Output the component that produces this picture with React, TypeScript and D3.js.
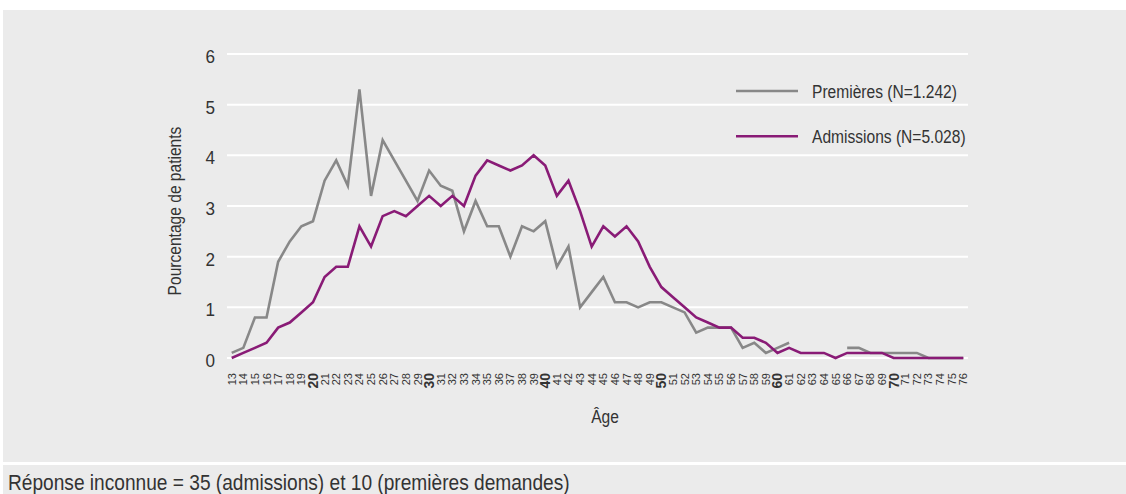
import React from 'react';
import * as d3 from 'd3';

const ages = [13, 14, 15, 16, 17, 18, 19, 20, 21, 22, 23, 24, 25, 26, 27, 28, 29, 30, 31, 32, 33, 34, 35, 36, 37, 38, 39, 40, 41, 42, 43, 44, 45, 46, 47, 48, 49, 50, 51, 52, 53, 54, 55, 56, 57, 58, 59, 60, 61, 62, 63, 64, 65, 66, 67, 68, 69, 70, 71, 72, 73, 74, 75, 76];

const premieres: (number | null)[] = [
  0.1, 0.2, 0.8, 0.8, 1.9, 2.3, 2.6, 2.7, 3.5, 3.9,
  3.4, 5.3, 3.2, 4.3, 3.9, 3.5, 3.1, 3.7, 3.4, 3.3,
  2.5, 3.1, 2.6, 2.6, 2.0, 2.6, 2.5, 2.7, 1.8, 2.2,
  1.0, 1.3, 1.6, 1.1, 1.1, 1.0, 1.1, 1.1, 1.0, 0.9,
  0.5, 0.6, 0.6, 0.6, 0.2, 0.3, 0.1, 0.2, 0.3, null,
  null, null, null, 0.2, 0.2, 0.1, 0.1, 0.1, 0.1, 0.1,
  0, 0, 0, 0,
];

const admissions: (number | null)[] = [
  0, 0.1, 0.2, 0.3, 0.6, 0.7, 0.9, 1.1, 1.6, 1.8,
  1.8, 2.6, 2.2, 2.8, 2.9, 2.8, 3.0, 3.2, 3.0, 3.2,
  3.0, 3.6, 3.9, 3.8, 3.7, 3.8, 4.0, 3.8, 3.2, 3.5,
  2.9, 2.2, 2.6, 2.4, 2.6, 2.3, 1.8, 1.4, 1.2, 1.0,
  0.8, 0.7, 0.6, 0.6, 0.4, 0.4, 0.3, 0.1, 0.2, 0.1,
  0.1, 0.1, 0, 0.1, 0.1, 0.1, 0.1, 0, 0, 0,
  0, 0, 0, 0,
];

const yTicks = [0, 1, 2, 3, 4, 5, 6];
const seriesNames = ['Premières (N=1.242)', 'Admissions (N=5.028)'];
const xTitle = 'Âge';
const yTitle = 'Pourcentage de patients';
const note = 'Réponse inconnue = 35 (admissions) et 10 (premières demandes)';

const FONT = "'Liberation Sans', Arial, sans-serif";
const TEXT = '#333333';
const PANEL = '#ebebeb';
const GRAY = '#888888';
const PURPLE = '#891b76';
const SQ = 0.82; // horizontal condensing of the label font

export default function App() {
  const W = 1126;
  const H = 494;
  const x = d3.scalePoint<number>().domain(ages).range([231.7, 963.3]);
  const y = d3.scaleLinear().domain([0, 6]).range([358, 54]);
  const gridX0 = 227;
  const gridX1 = 968;

  const mkLine = (vals: (number | null)[]) =>
    d3
      .line<number | null>()
      .defined((d) => d !== null)
      .x((_, i) => x(ages[i]) as number)
      .y((d) => y(d as number))(vals) || '';

  const series = [
    { name: seriesNames[0], values: premieres, color: GRAY },
    { name: seriesNames[1], values: admissions, color: PURPLE },
  ];

  return (
    <svg
      width={W}
      height={H}
      style={{ position: 'absolute', left: 0, top: 0, display: 'block' }}
      xmlns="http://www.w3.org/2000/svg"
    >
      <rect x={0} y={0} width={W} height={H} fill="#ffffff" />
      <rect x={3} y={10} width={W - 3} height={452} fill={PANEL} />
      <rect x={3} y={465} width={W - 3} height={H - 465} fill={PANEL} />

      {yTicks.map((t) => (
        <g key={t}>
          <line x1={gridX0} x2={gridX1} y1={y(t)} y2={y(t)} stroke="#ffffff" strokeWidth={2} />
          <text
            transform={`translate(215,${y(t) + 9}) scale(0.9,1)`}
            textAnchor="end"
            fontFamily={FONT}
            fontSize={19}
            fill={TEXT}
          >
            {t}
          </text>
        </g>
      ))}

      {ages.map((a) => {
        const bold = a % 10 === 0;
        const px = x(a) as number;
        return (
          <text
            key={a}
            transform={`translate(${px + (bold ? 5 : 4)},${373}) rotate(-90)`}
            textAnchor="end"
            fontFamily={FONT}
            fontSize={bold ? 14 : 11}
            fontWeight={bold ? 700 : 400}
            fill={TEXT}
          >
            {a}
          </text>
        );
      })}

      {series.map((s) => (
        <path
          key={s.name}
          d={mkLine(s.values)}
          fill="none"
          stroke={s.color}
          strokeWidth={2.6}
          strokeLinejoin="miter"
        />
      ))}

      {series.map((s, i) => {
        const ly = i === 0 ? 91 : 136.3;
        return (
          <g key={s.name + 'leg'}>
            <line x1={736} x2={798} y1={ly} y2={ly} stroke={s.color} strokeWidth={2.6} />
            <text
              transform={`translate(812,${ly + 6.8}) scale(${SQ},1)`}
              fontFamily={FONT}
              fontSize={19}
              fill={TEXT}
            >
              {s.name}
            </text>
          </g>
        );
      })}

      <text
        transform={`translate(181,${211}) rotate(-90) scale(${SQ},1)`}
        textAnchor="middle"
        fontFamily={FONT}
        fontSize={19}
        fill={TEXT}
      >
        {yTitle}
      </text>

      <text
        transform={`translate(605,423) scale(${SQ},1)`}
        textAnchor="middle"
        fontFamily={FONT}
        fontSize={19}
        fill={TEXT}
      >
        {xTitle}
      </text>

      <text transform={`translate(8,490) scale(0.85,1)`} fontFamily={FONT} fontSize={22.5} fill={TEXT}>
        {note}
      </text>
    </svg>
  );
}
